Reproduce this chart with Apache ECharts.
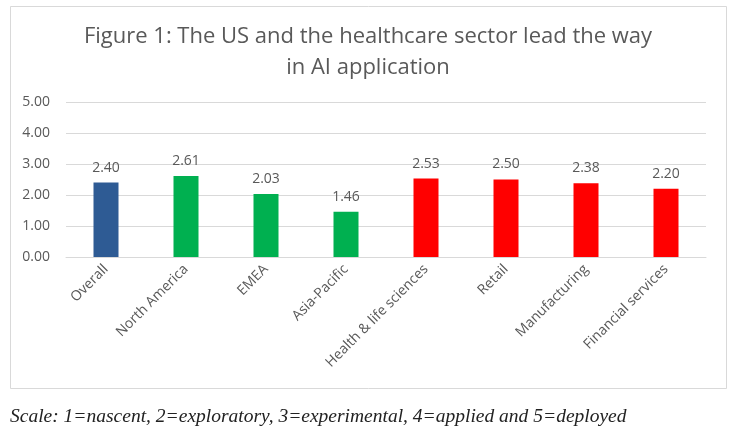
<!DOCTYPE html>
<html><head><meta charset="utf-8">
<script src="https://cdn.jsdelivr.net/npm/echarts@6/dist/echarts.min.js"></script>
<style>html,body{margin:0;padding:0;background:#fff}#c{width:736px;height:441px}</style>
</head><body><div id="c"></div>
<script>
const categories = ["Overall","North America","EMEA","Asia-Pacific","Health & life sciences","Retail","Manufacturing","Financial services"];
const values = [2.40, 2.61, 2.03, 1.46, 2.53, 2.50, 2.38, 2.20];
const barColors = ["#2E5B94","#00B050","#00B050","#00B050","#FF0000","#FF0000","#FF0000","#FF0000"];
const yTicks = [0, 1, 2, 3, 4, 5];
const titleText = "Figure 1: The US and the healthcare sector lead the way\nin AI application";
const footnote = "Scale: 1=nascent, 2=exploratory, 3=experimental, 4=applied and 5=deployed";

const chart = echarts.init(document.getElementById('c'));
chart.setOption({
  animation: false,
  backgroundColor: '#fff',
  title: {
    text: titleText, left: 'center', top: 16,
    textStyle: { fontFamily: 'Open Sans', fontWeight: 'normal', fontSize: 22, color: '#595959', lineHeight: 31 }
  },
  graphic: [
    { type: 'rect', shape: { x: 10.5, y: 6.5, width: 716, height: 382 }, style: { fill: 'none', stroke: '#d9d9d9', lineWidth: 1 }, z: -1 },
    { type: 'text', left: 10, top: 407, style: { text: footnote, font: 'italic 19.5px "Liberation Serif"', fill: '#222' } }
  ],
  grid: { left: 66, right: 30, top: 102, bottom: 184 },
  xAxis: {
    type: 'category', data: categories,
    axisLine: { lineStyle: { color: '#d9d9d9' } },
    axisTick: { show: false },
    axisLabel: { rotate: 45, interval: 0, color: '#595959', fontSize: 14, fontFamily: 'Open Sans', margin: 10 }
  },
  yAxis: {
    type: 'value', min: yTicks[0], max: yTicks[yTicks.length-1], interval: 1,
    axisLine: { show: false }, axisTick: { show: false },
    splitLine: { lineStyle: { color: '#d9d9d9' } },
    axisLabel: { color: '#595959', fontSize: 14, fontFamily: 'Open Sans', margin: 16, formatter: v => v.toFixed(2) }
  },
  series: [{
    type: 'bar', barWidth: 25,
    data: values.map((v, i) => ({ value: v, itemStyle: { color: barColors[i] } })),
    label: { show: true, position: 'top', distance: 8, color: '#595959', fontSize: 14, fontFamily: 'Open Sans', formatter: p => p.value.toFixed(2) }
  }]
});
</script></body></html>
